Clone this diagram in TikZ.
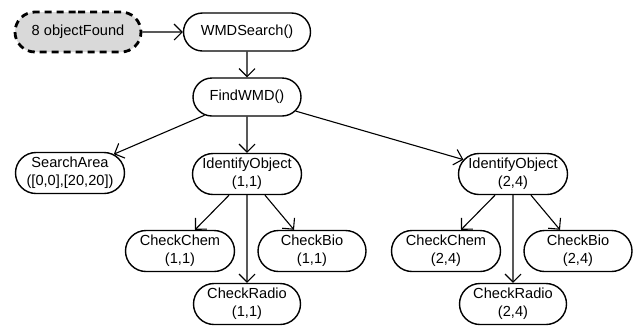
\documentclass[tikz,border=0pt]{standalone}
\usepackage{fontspec}
\setmainfont{Liberation Sans}
\usetikzlibrary{shapes.misc,arrows.meta}

\tikzset{
  task/.style={rounded rectangle, draw, line width=1.4pt, minimum height=38pt, inner sep=1pt, align=center, font=\fontsize{14.6}{18}\selectfont},
  found/.style={task, fill=black!15, line width=2.8pt, dash pattern=on 7pt off 5pt},
  link/.style={-{Straight Barb[length=8pt,width=16pt]}, line width=1.1pt}
}

\begin{document}
\begin{tikzpicture}[x=1pt,y=-1pt]
\useasboundingbox (0,0) rectangle (637,325);

\node[found, minimum width=128pt, minimum height=40pt] (found) at (78,32) {8 objectFound};
\node[task, minimum width=129pt] (search) at (247,32) {WMDSearch()};
\node[task, minimum width=110pt] (find) at (247,97) {FindWMD()};
\node[task, minimum width=111pt, minimum height=41pt] (area) at (70,173) {SearchArea\\([0,0],[20,20])};

\draw[link] (found) -- (search);
\draw[link] (search) -- (find);
\draw[link] (find) -- (area);

%% one subtree per object
\foreach \cx/\lbl [count=\ni] in {247/{1,1},513/{2,4}}
{
  \node[task, minimum width=111pt, minimum height=41pt] (id\ni) at (\cx,174) {IdentifyObject\\(\lbl)};
  \node[task, minimum width=111pt, minimum height=41pt] (chem\ni) at (\cx-67,251) {CheckChem\\(\lbl)};
  \node[task, minimum width=110pt, minimum height=41pt] (bio\ni) at (\cx+65,251) {CheckBio\\(\lbl)};
  \node[task, minimum width=109pt, minimum height=41pt] (radio\ni) at (\cx,304) {CheckRadio\\(\lbl)};

  \draw[link] (find) -- (id\ni);
  \draw[link] ([xshift=-18pt]id\ni.south) -- ([xshift=15pt]chem\ni.north);
  \draw[link] ([xshift=18pt]id\ni.south) -- ([xshift=-18pt]bio\ni.north);
  \draw[link] (id\ni) -- (radio\ni);
}
\end{tikzpicture}
\end{document}
